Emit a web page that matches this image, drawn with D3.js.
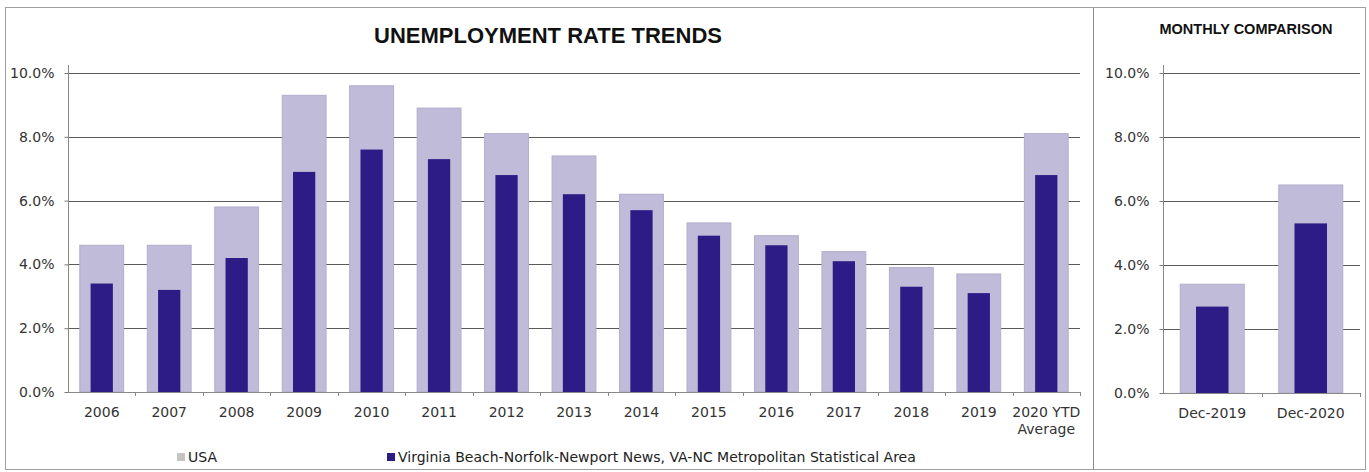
<!DOCTYPE html>
<html>
<head>
<meta charset="utf-8">
<script src="https://cdn.jsdelivr.net/npm/d3@7"></script>
<style>
  body { margin: 0; background: #fff; }
  svg { font-family: "DejaVu Sans", sans-serif; }
</style>
</head>
<body>
<svg id="chart" width="1369" height="472"></svg>
<script>
// yearly data
var years = ["2006", "2007", "2008", "2009", "2010", "2011", "2012", "2013", "2014", "2015", "2016", "2017", "2018", "2019", "2020 YTD|Average"];
var usaYearly = [4.6, 4.6, 5.8, 9.3, 9.6, 8.9, 8.1, 7.4, 6.2, 5.3, 4.9, 4.4, 3.9, 3.7, 8.1];
var vbYearly = [3.4, 3.2, 4.2, 6.9, 7.6, 7.3, 6.8, 6.2, 5.7, 4.9, 4.6, 4.1, 3.3, 3.1, 6.8];

// monthly comparison
var months = ["Dec-2019", "Dec-2020"];
var usaMonthly = [3.4, 6.5];
var vbMonthly = [2.7, 5.3];

var yTicks = [0, 2, 4, 6, 8, 10];
var seriesNames = ["USA", "Virginia Beach-Norfolk-Newport News, VA-NC Metropolitan Statistical Area"];

var lightColor = "#bfbbd8";
var darkColor = "#2e1c86";
var gridColor = "#5a5a5a";

var svg = d3.select("#chart");

// outer frame + divider
svg.append("rect")
    .attr("x", 5.5).attr("y", 7.5)
    .attr("width", 1360).attr("height", 462)
    .attr("fill", "none").attr("stroke", "#a0a0a0");
svg.append("line")
    .attr("x1", 1093.5).attr("x2", 1093.5)
    .attr("y1", 7.5).attr("y2", 469.5)
    .attr("stroke", "#8a8a8a");

function drawPanel(cats, usa, vb, x0, x1, y0, y1) {
    var x = d3.scaleBand().domain(cats).range([x0, x1]).padding(0);
    var y = d3.scaleLinear().domain([0, 10]).range([y1, y0]);
    var g = svg.append("g");

    // gridlines
    g.selectAll(".grid").data(yTicks.slice(1)).enter().append("line")
        .attr("x1", x0).attr("x2", x1)
        .attr("y1", d => Math.round(y(d)) + 0.5)
        .attr("y2", d => Math.round(y(d)) + 0.5)
        .attr("stroke", gridColor).attr("stroke-width", 1);

    var bw = x.bandwidth();

    // USA (wide, light)
    g.selectAll(".usa").data(usa).enter().append("rect")
        .attr("x", (d, i) => x(cats[i]) + bw * 0.175)
        .attr("width", bw * 0.65)
        .attr("y", d => y(d))
        .attr("height", d => y(0) - y(d))
        .attr("fill", lightColor)
        .attr("stroke", "#b2aecb").attr("stroke-width", 1);

    // Virginia Beach (narrow, dark)
    g.selectAll(".vb").data(vb).enter().append("rect")
        .attr("x", (d, i) => x(cats[i]) + bw * 0.335)
        .attr("width", bw * 0.33)
        .attr("y", d => y(d))
        .attr("height", d => y(0) - y(d))
        .attr("fill", darkColor);

    // y axis
    var ya = g.append("g")
        .attr("transform", "translate(" + (x0 + 0.5) + ",0)")
        .call(d3.axisLeft(y).tickValues(yTicks).tickSize(4).tickFormat(d => d.toFixed(1) + "%"));
    ya.select(".domain").remove();
    ya.selectAll("line").attr("stroke", "#777");
    ya.selectAll("text").attr("font-size", 14).attr("fill", "#333")
        .attr("x", -14).attr("font-family", "DejaVu Sans");
    g.append("line")
        .attr("x1", x0 + 0.5).attr("x2", x0 + 0.5)
        .attr("y1", y0 - 8).attr("y2", y1)
        .attr("stroke", "#888");

    // x axis
    g.append("line")
        .attr("x1", x0).attr("x2", x1)
        .attr("y1", Math.round(y(0)) + 0.5).attr("y2", Math.round(y(0)) + 0.5)
        .attr("stroke", "#888");
    g.selectAll(".xtick").data(cats).enter().append("line")
        .attr("x1", d => Math.round(x(d) + bw) + 0.5)
        .attr("x2", d => Math.round(x(d) + bw) + 0.5)
        .attr("y1", y(0)).attr("y2", y(0) + 4)
        .attr("stroke", "#888");

    var lbl = g.selectAll(".xlabel").data(cats).enter().append("text")
        .attr("x", d => x(d) + bw / 2)
        .attr("y", y(0) + 25)
        .attr("text-anchor", "middle")
        .attr("font-size", 14)
        .attr("fill", "#333");
    lbl.each(function (d) {
        var parts = d.split("|");
        var t = d3.select(this);
        parts.forEach(function (p, i) {
            t.append("tspan")
                .attr("x", x(d) + bw / 2)
                .attr("dy", i == 0 ? 0 : 17)
                .text(p);
        });
    });
}

drawPanel(years, usaYearly, vbYearly, 68, 1080, 73, 392);
drawPanel(months, usaMonthly, vbMonthly, 1163, 1360, 73, 393);

// titles
svg.append("text")
    .text("UNEMPLOYMENT RATE TRENDS")
    .attr("x", 548).attr("y", 43)
    .attr("text-anchor", "middle")
    .attr("font-family", "Liberation Sans, Arial, sans-serif")
    .attr("font-weight", "bold")
    .attr("font-size", 22)
    .attr("fill", "#111");

svg.append("text")
    .text("MONTHLY COMPARISON")
    .attr("x", 1246).attr("y", 34)
    .attr("text-anchor", "middle")
    .attr("font-family", "Liberation Sans, Arial, sans-serif")
    .attr("font-weight", "bold")
    .attr("font-size", 14.5)
    .attr("fill", "#111");

// legend
var legendX = [177, 387];
var legendColors = ["#c4c4c4", darkColor];
seriesNames.forEach(function (name, i) {
    svg.append("rect")
        .attr("x", legendX[i]).attr("y", 453)
        .attr("width", 8).attr("height", 8)
        .attr("fill", legendColors[i]);
    svg.append("text")
        .text(name)
        .attr("x", legendX[i] + 11).attr("y", 462)
        .attr("font-size", 14)
        .attr("fill", "#222");
});
</script>
</body>
</html>
